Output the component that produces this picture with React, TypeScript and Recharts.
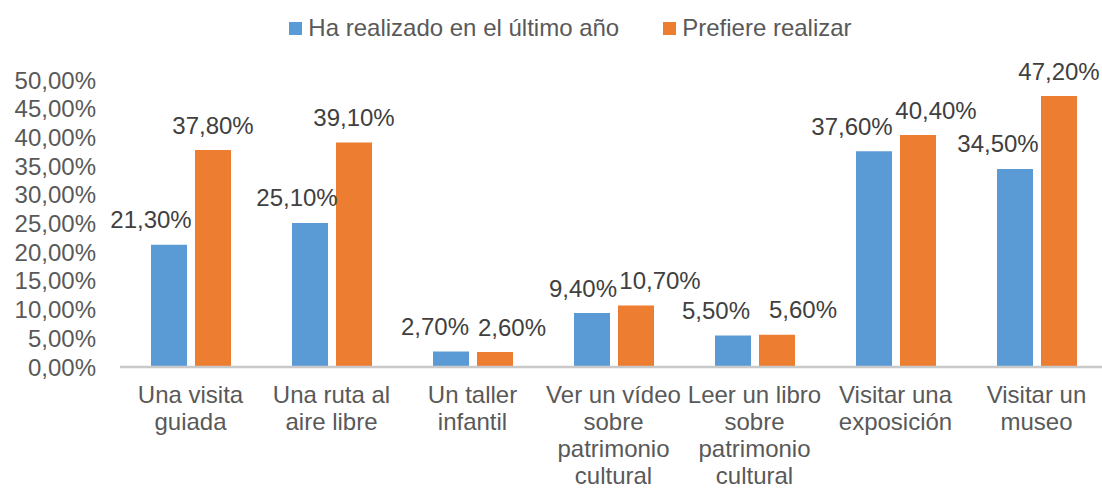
import { BarChart, Bar, XAxis, YAxis, Legend, LabelList } from "recharts";

const categories = [
  "Una visita guiada",
  "Una ruta al aire libre",
  "Un taller infantil",
  "Ver un vídeo sobre patrimonio cultural",
  "Leer un libro sobre patrimonio cultural",
  "Visitar una exposición",
  "Visitar un museo",
];

// líneas de cada etiqueta del eje, como en el original
const categoryLines = [
  ["Una visita", "guiada"],
  ["Una ruta al", "aire libre"],
  ["Un taller", "infantil"],
  ["Ver un vídeo", "sobre", "patrimonio", "cultural"],
  ["Leer un libro", "sobre", "patrimonio", "cultural"],
  ["Visitar una", "exposición"],
  ["Visitar un", "museo"],
];

const realizado = [21.3, 25.1, 2.7, 9.4, 5.5, 37.6, 34.5];
const prefiere = [37.8, 39.1, 2.6, 10.7, 5.6, 40.4, 47.2];
const yTicks = [0, 5, 10, 15, 20, 25, 30, 35, 40, 45, 50];

const SERIES_A = "Ha realizado en el último año";
const SERIES_B = "Prefiere realizar";

const data = categories.map((name, i) => ({
  name,
  a: realizado[i],
  b: prefiere[i],
}));

// desplazamientos horizontales de las etiquetas (Excel las movió a mano)
const nudgeA = [-18, -13, -16, -9, -17, -22, -17];
const nudgeB = [0, 0, 17, 24, 26, 18, 0];

const BLUE = "#5B9BD5";
const ORANGE = "#ED7D31";
const FONT = "'Liberation Sans', Arial, sans-serif";

const fmt = (v: number) => v.toFixed(2).replace(".", ",") + "%";

function CategoryTick({ x, y, payload }: any) {
  const lines = categoryLines[payload.index] || [payload.value];
  return (
    <text x={x} y={y} textAnchor="middle" fill="#595959" fontSize={24} fontFamily={FONT}>
      {lines.map((l: string, i: number) => (
        <tspan key={i} x={x} dy={i === 0 ? 28 : 27}>
          {l}
        </tspan>
      ))}
    </text>
  );
}

const makeLabel = (nudge: number[]) => (props: any) => {
  const { x, y, width, value, index } = props;
  return (
    <text
      x={x + width / 2 + nudge[index]}
      y={y - 25}
      textAnchor="middle"
      dominantBaseline="central"
      fill="#404040"
      fontSize={24}
      fontFamily={FONT}
    >
      {fmt(value)}
    </text>
  );
};

function LegendBox() {
  const items = [
    { label: SERIES_A, color: BLUE },
    { label: SERIES_B, color: ORANGE },
  ];
  return (
    <div style={{ display: "flex", justifyContent: "center", gap: 44, paddingLeft: 34 }}>
      {items.map((it) => (
        <div key={it.label} style={{ display: "flex", alignItems: "center", gap: 6 }}>
          <div style={{ width: 13, height: 13, background: it.color }} />
          <span style={{ fontFamily: FONT, fontSize: 24, color: "#595959" }}>{it.label}</span>
        </div>
      ))}
    </div>
  );
}

export default function App() {
  return (
    <div style={{ position: "absolute", left: 0, top: 0, width: 1102, height: 491, overflow: "hidden", background: "#fff" }}>
      <BarChart
        width={1107}
        height={491}
        data={data}
        margin={{ top: 40, right: 0, bottom: 0, left: 0 }}
        barSize={36}
        barGap={8}
      >
        <Legend verticalAlign="top" height={40} wrapperStyle={{ top: 14 }} content={<LegendBox />} />
        <XAxis
          dataKey="name"
          height={124}
          interval={0}
          tickLine={false}
          axisLine={{ stroke: "#c9c9c9", strokeWidth: 2.5 }}
          tick={<CategoryTick />}
        />
        <YAxis
          width={120}
          domain={[0, 50]}
          ticks={yTicks}
          interval={0}
          tickFormatter={fmt}
          axisLine={false}
          tickLine={false}
          tickSize={0}
          tickMargin={24}
          tick={{ fill: "#595959", fontSize: 24, fontFamily: FONT }}
        />
        <Bar dataKey="a" name={SERIES_A} fill={BLUE} isAnimationActive={false}>
          <LabelList dataKey="a" content={makeLabel(nudgeA)} />
        </Bar>
        <Bar dataKey="b" name={SERIES_B} fill={ORANGE} isAnimationActive={false}>
          <LabelList dataKey="b" content={makeLabel(nudgeB)} />
        </Bar>
      </BarChart>
    </div>
  );
}
